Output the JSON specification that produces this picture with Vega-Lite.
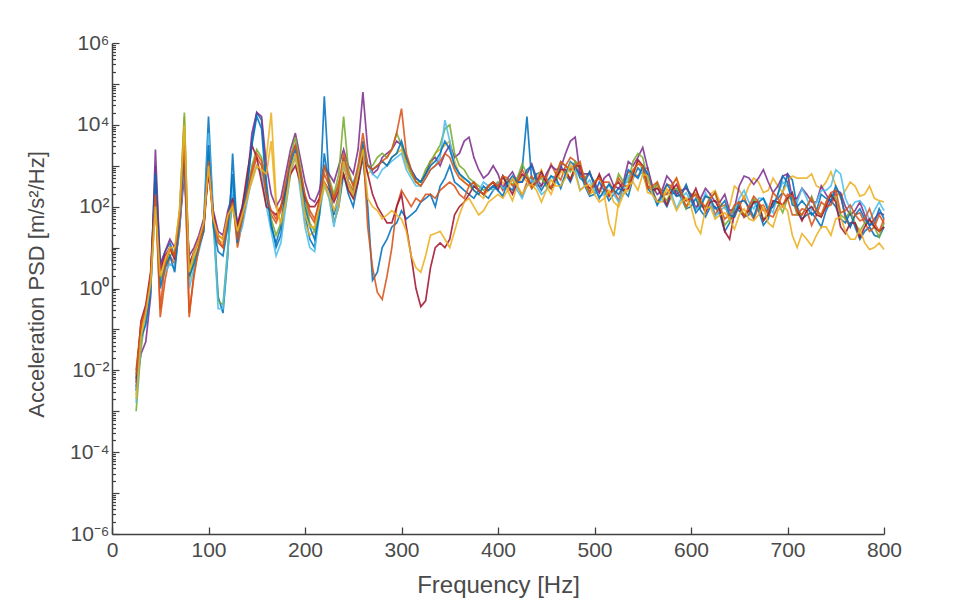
{
  "$schema": "https://vega.github.io/schema/vega-lite/v6.json",
  "autosize": {"type": "none"},
  "width": 772,
  "height": 491,
  "padding": {"left": 112, "top": 43, "right": 76, "bottom": 81},
  "background": "white",
  "config": {"view": {"stroke": null}, "font": "Liberation Sans"},
  "data": {"values": [
    {"f":25,"s1":6.3e-3,"s2":1e-2,"s3":2.5e-3,"s4":4e-3,"s5":1e-3,"s6":1.6e-3,"s7":5e-3,"s8":3.2e-3,"s9":8e-3,"s10":2e-3},
    {"f":30,"s1":0.1,"s2":0.13,"s3":0.08,"s4":0.025,"s5":0.032,"s6":0.05,"s7":0.16,"s8":0.063,"s9":0.13,"s10":0.063},
    {"f":35,"s1":0.32,"s2":0.25,"s3":0.32,"s4":0.05,"s5":0.25,"s6":0.16,"s7":0.4,"s8":0.13,"s9":0.32,"s10":0.25},
    {"f":40,"s1":1.6,"s2":2,"s3":1.3,"s4":0.63,"s5":1.6,"s6":1,"s7":2.5,"s8":0.8,"s9":2,"s10":1.3},
    {"f":45,"s1":1000,"s2":250,"s3":100,"s4":2500,"s5":160,"s6":130,"s7":400,"s8":630,"s9":200,"s10":100},
    {"f":50,"s1":4,"s2":0.2,"s3":1.6,"s4":3.2,"s5":1.6,"s6":1.3,"s7":2.5,"s8":1,"s9":0.32,"s10":2},
    {"f":55,"s1":8,"s2":1.6,"s3":4,"s4":8,"s5":3.2,"s6":2.5,"s7":6.3,"s8":3.2,"s9":4,"s10":5},
    {"f":60,"s1":13,"s2":6.3,"s3":8,"s4":16,"s5":6.3,"s6":4,"s7":10,"s8":6.3,"s9":10,"s10":10},
    {"f":65,"s1":6.3,"s2":4,"s3":8,"s4":10,"s5":8,"s6":3.2,"s7":5,"s8":2.5,"s9":6.3,"s10":10},
    {"f":70,"s1":40,"s2":25,"s3":63,"s4":32,"s5":80,"s6":32,"s7":63,"s8":40,"s9":50,"s10":80},
    {"f":75,"s1":1000,"s2":1600,"s3":16000,"s4":630,"s5":20000,"s6":1300,"s7":2000,"s8":3200,"s9":4000,"s10":10000},
    {"f":80,"s1":3.2,"s2":0.2,"s3":2,"s4":6.3,"s5":1.6,"s6":1,"s7":4,"s8":2,"s9":0.25,"s10":2.5},
    {"f":85,"s1":8,"s2":2.5,"s3":6.3,"s4":10,"s5":5,"s6":3.2,"s7":8,"s8":4,"s9":2,"s10":8},
    {"f":90,"s1":16,"s2":10,"s3":13,"s4":20,"s5":10,"s6":8,"s7":16,"s8":10,"s9":10,"s10":16},
    {"f":95,"s1":40,"s2":25,"s3":40,"s4":50,"s5":32,"s6":25,"s7":32,"s8":25,"s9":32,"s10":40},
    {"f":100,"s1":16000,"s2":1000,"s3":1600,"s4":630,"s5":2000,"s6":6300,"s7":800,"s8":3200,"s9":1300,"s10":1000},
    {"f":105,"s1":63,"s2":40,"s3":50,"s4":80,"s5":40,"s6":50,"s7":63,"s8":32,"s9":50,"s10":50},
    {"f":110,"s1":0.63,"s2":13,"s3":16,"s4":25,"s5":0.5,"s6":0.32,"s7":20,"s8":8,"s9":16,"s10":20},
    {"f":115,"s1":0.25,"s2":10,"s3":13,"s4":20,"s5":0.4,"s6":0.32,"s7":16,"s8":6.3,"s9":10,"s10":16},
    {"f":120,"s1":6.3,"s2":40,"s3":50,"s4":80,"s5":10,"s6":8,"s7":63,"s8":32,"s9":50,"s10":63},
    {"f":125,"s1":2000,"s2":160,"s3":100,"s4":200,"s5":130,"s6":320,"s7":160,"s8":630,"s9":130,"s10":100},
    {"f":130,"s1":20,"s2":10,"s3":25,"s4":40,"s5":20,"s6":16,"s7":32,"s8":13,"s9":16,"s10":25},
    {"f":135,"s1":63,"s2":40,"s3":80,"s4":100,"s5":50,"s6":32,"s7":100,"s8":63,"s9":50,"s10":63},
    {"f":140,"s1":250,"s2":160,"s3":200,"s4":400,"s5":200,"s6":130,"s7":630,"s8":320,"s9":200,"s10":160},
    {"f":145,"s1":4000,"s2":630,"s3":400,"s4":6300,"s5":1000,"s6":500,"s7":3200,"s8":3200,"s9":800,"s10":500},
    {"f":150,"s1":20000,"s2":1600,"s3":1000,"s4":20000,"s5":2500,"s6":1000,"s7":1600,"s8":16000,"s9":2000,"s10":1000},
    {"f":155,"s1":13000,"s2":1000,"s3":630,"s4":16000,"s5":1600,"s6":630,"s7":400,"s8":8000,"s9":1300,"s10":800},
    {"f":160,"s1":400,"s2":160,"s3":1600,"s4":1000,"s5":200,"s6":100,"s7":100,"s8":250,"s9":200,"s10":630},
    {"f":165,"s1":40,"s2":63,"s3":20000,"s4":200,"s5":50,"s6":25,"s7":80,"s8":32,"s9":80,"s10":4000},
    {"f":170,"s1":10,"s2":40,"s3":160,"s4":100,"s5":20,"s6":6.3,"s7":63,"s8":13,"s9":50,"s10":100},
    {"f":175,"s1":20,"s2":80,"s3":32,"s4":160,"s5":40,"s6":13,"s7":100,"s8":32,"s9":100,"s10":40},
    {"f":180,"s1":200,"s2":320,"s3":100,"s4":630,"s5":250,"s6":100,"s7":250,"s8":250,"s9":400,"s10":130},
    {"f":185,"s1":1000,"s2":1000,"s3":630,"s4":2500,"s5":1600,"s6":630,"s7":630,"s8":1300,"s9":1600,"s10":800},
    {"f":190,"s1":2500,"s2":1600,"s3":1600,"s4":6300,"s5":5000,"s6":2000,"s7":1000,"s8":3200,"s9":3200,"s10":2000},
    {"f":195,"s1":400,"s2":630,"s3":320,"s4":1600,"s5":1000,"s6":250,"s7":400,"s8":630,"s9":800,"s10":400},
    {"f":200,"s1":63,"s2":160,"s3":40,"s4":400,"s5":160,"s6":32,"s7":160,"s8":100,"s9":200,"s10":63},
    {"f":205,"s1":16,"s2":63,"s3":20,"s4":160,"s5":40,"s6":10,"s7":100,"s8":32,"s9":80,"s10":32},
    {"f":210,"s1":10,"s2":40,"s3":25,"s4":130,"s5":25,"s6":8,"s7":100,"s8":16,"s9":50,"s10":32},
    {"f":215,"s1":100,"s2":160,"s3":80,"s4":250,"s5":100,"s6":63,"s7":160,"s8":63,"s9":130,"s10":100},
    {"f":220,"s1":50000,"s2":630,"s3":320,"s4":1000,"s5":1000,"s6":400,"s7":400,"s8":2000,"s9":1000,"s10":400},
    {"f":225,"s1":400,"s2":320,"s3":160,"s4":630,"s5":500,"s6":160,"s7":250,"s8":320,"s9":400,"s10":200},
    {"f":230,"s1":40,"s2":160,"s3":40,"s4":400,"s5":200,"s6":32,"s7":130,"s8":63,"s9":160,"s10":80},
    {"f":235,"s1":100,"s2":400,"s3":100,"s4":1000,"s5":630,"s6":160,"s7":250,"s8":200,"s9":320,"s10":160},
    {"f":240,"s1":630,"s2":1000,"s3":1600,"s4":2500,"s5":16000,"s6":1000,"s7":630,"s8":1600,"s9":2000,"s10":1300},
    {"f":245,"s1":200,"s2":400,"s3":320,"s4":1000,"s5":800,"s6":500,"s7":250,"s8":400,"s9":630,"s10":400},
    {"f":250,"s1":100,"s2":250,"s3":160,"s4":630,"s5":320,"s6":400,"s7":160,"s8":200,"s9":320,"s10":200},
    {"f":255,"s1":400,"s2":630,"s3":500,"s4":2500,"s5":800,"s6":800,"s7":400,"s8":630,"s9":1000,"s10":630},
    {"f":260,"s1":1600,"s2":3200,"s3":2000,"s4":63000,"s5":2500,"s6":2000,"s7":2000,"s8":4000,"s9":6300,"s10":2500},
    {"f":265,"s1":100,"s2":32,"s3":630,"s4":2500,"s5":1000,"s6":1000,"s7":630,"s8":1000,"s9":1000,"s10":160},
    {"f":270,"s1":1.6,"s2":3.2,"s3":800,"s4":630,"s5":1000,"s6":630,"s7":200,"s8":800,"s9":800,"s10":100},
    {"f":275,"s1":2.5,"s2":0.8,"s3":1000,"s4":800,"s5":1600,"s6":500,"s7":100,"s8":1000,"s9":1000,"s10":80},
    {"f":280,"s1":10,"s2":0.54,"s3":1300,"s4":1600,"s5":2000,"s6":800,"s7":63,"s8":1300,"s9":1300,"s10":50},
    {"f":285,"s1":16,"s2":2,"s3":1000,"s4":2000,"s5":1600,"s6":1000,"s7":40,"s8":1000,"s9":1600,"s10":63},
    {"f":290,"s1":32,"s2":10,"s3":1600,"s4":2500,"s5":2500,"s6":1300,"s7":40,"s8":1600,"s9":2500,"s10":80},
    {"f":295,"s1":40,"s2":100,"s3":2000,"s4":4000,"s5":6300,"s6":1600,"s7":100,"s8":2000,"s9":6300,"s10":63},
    {"f":300,"s1":80,"s2":250,"s3":2500,"s4":3200,"s5":3200,"s6":2000,"s7":200,"s8":4000,"s9":25000,"s10":50},
    {"f":305,"s1":50,"s2":160,"s3":1000,"s4":1600,"s5":1300,"s6":800,"s7":32,"s8":1600,"s9":2000,"s10":25},
    {"f":310,"s1":63,"s2":100,"s3":630,"s4":800,"s5":630,"s6":500,"s7":6.3,"s8":800,"s9":800,"s10":6.3},
    {"f":315,"s1":80,"s2":160,"s3":400,"s4":500,"s5":400,"s6":320,"s7":1,"s8":500,"s9":400,"s10":3.2},
    {"f":320,"s1":130,"s2":130,"s3":320,"s4":400,"s5":400,"s6":320,"s7":0.36,"s8":400,"s9":320,"s10":2.5},
    {"f":325,"s1":160,"s2":200,"s3":630,"s4":630,"s5":800,"s6":500,"s7":0.5,"s8":630,"s9":500,"s10":6.3},
    {"f":330,"s1":200,"s2":200,"s3":1000,"s4":1300,"s5":1300,"s6":800,"s7":3.2,"s8":1000,"s9":800,"s10":20},
    {"f":335,"s1":100,"s2":160,"s3":2000,"s4":1600,"s5":2000,"s6":1000,"s7":10,"s8":1300,"s9":1000,"s10":22},
    {"f":340,"s1":320,"s2":250,"s3":2500,"s4":1000,"s5":3200,"s6":1600,"s7":13,"s8":2000,"s9":1300,"s10":25},
    {"f":345,"s1":500,"s2":320,"s3":3200,"s4":2000,"s5":8000,"s6":13000,"s7":10,"s8":4000,"s9":2000,"s10":16},
    {"f":350,"s1":1000,"s2":400,"s3":4000,"s4":3200,"s5":10000,"s6":4000,"s7":16,"s8":2500,"s9":1600,"s10":10},
    {"f":355,"s1":400,"s2":320,"s3":1300,"s4":1600,"s5":2000,"s6":1000,"s7":63,"s8":1000,"s9":800,"s10":25},
    {"f":360,"s1":320,"s2":200,"s3":630,"s4":2000,"s5":1000,"s6":630,"s7":100,"s8":630,"s9":500,"s10":63},
    {"f":365,"s1":250,"s2":160,"s3":400,"s4":4000,"s5":800,"s6":500,"s7":130,"s8":500,"s9":400,"s10":130},
    {"f":370,"s1":200,"s2":320,"s3":320,"s4":5000,"s5":500,"s6":400,"s7":200,"s8":400,"s9":320,"s10":160},
    {"f":375,"s1":160,"s2":400,"s3":250,"s4":1600,"s5":400,"s6":320,"s7":320,"s8":250,"s9":400,"s10":100},
    {"f":380,"s1":250,"s2":250,"s3":200,"s4":800,"s5":320,"s6":250,"s7":250,"s8":200,"s9":250,"s10":63},
    {"f":385,"s1":200,"s2":200,"s3":160,"s4":500,"s5":250,"s6":400,"s7":200,"s8":320,"s9":200,"s10":80},
    {"f":390,"s1":160,"s2":250,"s3":320,"s4":630,"s5":320,"s6":320,"s7":320,"s8":250,"s9":320,"s10":130},
    {"f":395,"s1":250,"s2":320,"s3":250,"s4":1000,"s5":400,"s6":250,"s7":400,"s8":320,"s9":400,"s10":160},
    {"f":400,"s1":320,"s2":400,"s3":400,"s4":630,"s5":320,"s6":400,"s7":250,"s8":250,"s9":320,"s10":200},
    {"f":405,"s1":560,"s2":250,"s3":400,"s4":280,"s5":560,"s6":280,"s7":560,"s8":180,"s9":560,"s10":160},
    {"f":410,"s1":320,"s2":400,"s3":250,"s4":500,"s5":400,"s6":320,"s7":320,"s8":400,"s9":500,"s10":250},
    {"f":415,"s1":250,"s2":450,"s3":140,"s4":710,"s5":350,"s6":560,"s7":200,"s8":560,"s9":320,"s10":500},
    {"f":420,"s1":500,"s2":320,"s3":320,"s4":400,"s5":500,"s6":250,"s7":400,"s8":400,"s9":400,"s10":320},
    {"f":425,"s1":800,"s2":180,"s3":560,"s4":400,"s5":1100,"s6":160,"s7":630,"s8":400,"s9":800,"s10":200},
    {"f":430,"s1":16000,"s2":400,"s3":400,"s4":630,"s5":630,"s6":320,"s7":500,"s8":800,"s9":500,"s10":320},
    {"f":435,"s1":400,"s2":560,"s3":350,"s4":1100,"s5":280,"s6":450,"s7":320,"s8":1000,"s9":280,"s10":350},
    {"f":440,"s1":630,"s2":320,"s3":500,"s4":500,"s5":400,"s6":320,"s7":400,"s8":400,"s9":400,"s10":250},
    {"f":445,"s1":710,"s2":320,"s3":800,"s4":320,"s5":500,"s6":200,"s7":710,"s8":250,"s9":560,"s10":130},
    {"f":450,"s1":320,"s2":500,"s3":320,"s4":630,"s5":320,"s6":250,"s7":400,"s8":400,"s9":500,"s10":250},
    {"f":455,"s1":280,"s2":1100,"s3":200,"s4":1000,"s5":280,"s6":560,"s7":280,"s8":560,"s9":280,"s10":450},
    {"f":460,"s1":400,"s2":630,"s3":400,"s4":800,"s5":500,"s6":400,"s7":500,"s8":500,"s9":630,"s10":320},
    {"f":465,"s1":1000,"s2":450,"s3":710,"s4":890,"s5":1260,"s6":320,"s7":800,"s8":280,"s9":1260,"s10":320},
    {"f":470,"s1":630,"s2":1000,"s3":630,"s4":2000,"s5":1000,"s6":630,"s7":800,"s8":630,"s9":1000,"s10":500},
    {"f":475,"s1":400,"s2":1600,"s3":500,"s4":4000,"s5":710,"s6":890,"s7":450,"s8":1260,"s9":800,"s10":1100},
    {"f":480,"s1":800,"s2":1300,"s3":800,"s4":5000,"s5":1300,"s6":800,"s7":1000,"s8":1000,"s9":1000,"s10":630},
    {"f":485,"s1":710,"s2":560,"s3":1000,"s4":630,"s5":1000,"s6":250,"s7":1000,"s8":500,"s9":1260,"s10":250},
    {"f":490,"s1":320,"s2":500,"s3":400,"s4":630,"s5":500,"s6":320,"s7":400,"s8":400,"s9":400,"s10":320},
    {"f":495,"s1":180,"s2":710,"s3":200,"s4":630,"s5":220,"s6":450,"s7":280,"s8":710,"s9":220,"s10":350},
    {"f":500,"s1":200,"s2":320,"s3":250,"s4":400,"s5":400,"s6":250,"s7":320,"s8":320,"s9":400,"s10":200},
    {"f":505,"s1":400,"s2":220,"s3":280,"s4":220,"s5":560,"s6":180,"s7":630,"s8":160,"s9":500,"s10":130},
    {"f":510,"s1":250,"s2":400,"s3":200,"s4":500,"s5":320,"s6":200,"s7":320,"s8":250,"s9":320,"s10":160},
    {"f":515,"s1":140,"s2":400,"s3":40,"s4":630,"s5":220,"s6":350,"s7":180,"s8":350,"s9":200,"s10":250},
    {"f":520,"s1":200,"s2":250,"s3":19,"s4":320,"s5":250,"s6":200,"s7":320,"s8":250,"s9":250,"s10":130},
    {"f":525,"s1":280,"s2":140,"s3":130,"s4":280,"s5":630,"s6":130,"s7":400,"s8":200,"s9":500,"s10":100},
    {"f":530,"s1":250,"s2":320,"s3":200,"s4":400,"s5":400,"s6":250,"s7":250,"s8":320,"s9":320,"s10":200},
    {"f":535,"s1":180,"s2":710,"s3":250,"s4":1260,"s5":400,"s6":560,"s7":280,"s8":800,"s9":320,"s10":350},
    {"f":540,"s1":500,"s2":630,"s3":500,"s4":1000,"s5":1300,"s6":630,"s7":630,"s8":630,"s9":800,"s10":400},
    {"f":545,"s1":890,"s2":560,"s3":1260,"s4":1600,"s5":2000,"s6":500,"s7":1400,"s8":500,"s9":1100,"s10":250},
    {"f":550,"s1":630,"s2":800,"s3":800,"s4":2800,"s5":1600,"s6":800,"s7":1000,"s8":1000,"s9":1000,"s10":630},
    {"f":555,"s1":280,"s2":890,"s3":220,"s4":890,"s5":450,"s6":710,"s7":320,"s8":630,"s9":280,"s10":560},
    {"f":560,"s1":200,"s2":250,"s3":200,"s4":320,"s5":250,"s6":200,"s7":250,"s8":250,"s9":320,"s10":200},
    {"f":565,"s1":350,"s2":130,"s3":320,"s4":200,"s5":400,"s6":110,"s7":280,"s8":110,"s9":400,"s10":130},
    {"f":570,"s1":160,"s2":200,"s3":250,"s4":250,"s5":200,"s6":160,"s7":200,"s8":200,"s9":200,"s10":130},
    {"f":575,"s1":100,"s2":350,"s3":200,"s4":560,"s5":140,"s6":220,"s7":110,"s8":350,"s9":200,"s10":280},
    {"f":580,"s1":200,"s2":320,"s3":320,"s4":400,"s5":250,"s6":200,"s7":250,"s8":250,"s9":320,"s10":160},
    {"f":585,"s1":250,"s2":180,"s3":500,"s4":200,"s5":280,"s6":89,"s7":350,"s8":180,"s9":500,"s10":80},
    {"f":590,"s1":160,"s2":200,"s3":250,"s4":250,"s5":200,"s6":160,"s7":200,"s8":200,"s9":200,"s10":130},
    {"f":595,"s1":89,"s2":320,"s3":140,"s4":280,"s5":89,"s6":220,"s7":140,"s8":350,"s9":100,"s10":160},
    {"f":600,"s1":100,"s2":160,"s3":200,"s4":200,"s5":160,"s6":130,"s7":160,"s8":160,"s9":160,"s10":100},
    {"f":605,"s1":160,"s2":89,"s3":220,"s4":89,"s5":200,"s6":89,"s7":280,"s8":71,"s9":200,"s10":35},
    {"f":610,"s1":80,"s2":130,"s3":160,"s4":160,"s5":100,"s6":100,"s7":130,"s8":100,"s9":130,"s10":22},
    {"f":615,"s1":56,"s2":180,"s3":89,"s4":280,"s5":100,"s6":220,"s7":71,"s8":180,"s9":100,"s10":89},
    {"f":620,"s1":100,"s2":160,"s3":200,"s4":200,"s5":160,"s6":130,"s7":130,"s8":160,"s9":160,"s10":100},
    {"f":625,"s1":100,"s2":63,"s3":250,"s4":130,"s5":220,"s6":56,"s7":140,"s8":89,"s9":220,"s10":50},
    {"f":630,"s1":63,"s2":100,"s3":130,"s4":130,"s5":80,"s6":80,"s7":80,"s8":100,"s9":100,"s10":63},
    {"f":635,"s1":25,"s2":110,"s3":89,"s4":200,"s5":35,"s6":100,"s7":25,"s8":140,"s9":50,"s10":71},
    {"f":640,"s1":40,"s2":50,"s3":100,"s4":80,"s5":50,"s6":63,"s7":16,"s8":63,"s9":63,"s10":50},
    {"f":645,"s1":89,"s2":56,"s3":320,"s4":89,"s5":100,"s6":71,"s7":71,"s8":56,"s9":110,"s10":28},
    {"f":650,"s1":80,"s2":100,"s3":250,"s4":320,"s5":100,"s6":160,"s7":100,"s8":130,"s9":130,"s10":63},
    {"f":655,"s1":56,"s2":180,"s3":160,"s4":560,"s5":63,"s6":250,"s7":56,"s8":140,"s9":56,"s10":89},
    {"f":660,"s1":63,"s2":80,"s3":320,"s4":500,"s5":80,"s6":130,"s7":80,"s8":100,"s9":100,"s10":50},
    {"f":665,"s1":140,"s2":50,"s3":500,"s4":350,"s5":160,"s6":89,"s7":130,"s8":56,"s9":180,"s10":45},
    {"f":670,"s1":80,"s2":100,"s3":400,"s4":500,"s5":100,"s6":160,"s7":130,"s8":130,"s9":130,"s10":63},
    {"f":675,"s1":35,"s2":110,"s3":220,"s4":800,"s5":50,"s6":160,"s7":45,"s8":160,"s9":80,"s10":100},
    {"f":680,"s1":50,"s2":63,"s3":250,"s4":400,"s5":63,"s6":100,"s7":63,"s8":80,"s9":80,"s10":40},
    {"f":685,"s1":130,"s2":56,"s3":500,"s4":220,"s5":110,"s6":71,"s7":140,"s8":100,"s9":220,"s10":32},
    {"f":690,"s1":160,"s2":100,"s3":320,"s4":320,"s5":130,"s6":200,"s7":130,"s8":200,"s9":160,"s10":80},
    {"f":695,"s1":220,"s2":220,"s3":220,"s4":560,"s5":71,"s6":400,"s7":110,"s8":560,"s9":100,"s10":110},
    {"f":700,"s1":630,"s2":160,"s3":400,"s4":630,"s5":160,"s6":320,"s7":160,"s8":400,"s9":200,"s10":80},
    {"f":705,"s1":450,"s2":63,"s3":560,"s4":160,"s5":160,"s6":160,"s7":220,"s8":110,"s9":180,"s10":20},
    {"f":710,"s1":100,"s2":63,"s3":500,"s4":160,"s5":63,"s6":130,"s7":80,"s8":100,"s9":80,"s10":10},
    {"f":715,"s1":50,"s2":89,"s3":500,"s4":280,"s5":63,"s6":280,"s7":45,"s8":140,"s9":63,"s10":22},
    {"f":720,"s1":63,"s2":80,"s3":500,"s4":200,"s5":100,"s6":160,"s7":80,"s8":100,"s9":100,"s10":16},
    {"f":725,"s1":71,"s2":35,"s3":630,"s4":130,"s5":180,"s6":80,"s7":100,"s8":63,"s9":160,"s10":11},
    {"f":730,"s1":50,"s2":63,"s3":320,"s4":130,"s5":80,"s6":130,"s7":63,"s8":80,"s9":80,"s10":20},
    {"f":735,"s1":32,"s2":130,"s3":280,"s4":320,"s5":56,"s6":250,"s7":56,"s8":200,"s9":63,"s10":32},
    {"f":740,"s1":80,"s2":100,"s3":400,"s4":200,"s5":130,"s6":250,"s7":100,"s8":160,"s9":130,"s10":32},
    {"f":745,"s1":140,"s2":110,"s3":710,"s4":130,"s5":200,"s6":320,"s7":200,"s8":140,"s9":220,"s10":20},
    {"f":750,"s1":100,"s2":200,"s3":320,"s4":250,"s5":160,"s6":800,"s7":130,"s8":320,"s9":250,"s10":50},
    {"f":755,"s1":50,"s2":200,"s3":160,"s4":220,"s5":63,"s6":630,"s7":32,"s8":180,"s9":71,"s10":56},
    {"f":760,"s1":40,"s2":50,"s3":250,"s4":100,"s5":50,"s6":160,"s7":22,"s8":63,"s9":80,"s10":25},
    {"f":765,"s1":71,"s2":32,"s3":400,"s4":63,"s5":80,"s6":89,"s7":40,"s8":32,"s9":110,"s10":16},
    {"f":770,"s1":32,"s2":63,"s3":320,"s4":80,"s5":40,"s6":130,"s7":40,"s8":63,"s9":63,"s10":16},
    {"f":775,"s1":16,"s2":71,"s3":180,"s4":130,"s5":25,"s6":140,"s7":18,"s8":89,"s9":45,"s10":28},
    {"f":780,"s1":25,"s2":40,"s3":200,"s4":63,"s5":40,"s6":100,"s7":32,"s8":50,"s9":50,"s10":13},
    {"f":785,"s1":32,"s2":25,"s3":320,"s4":35,"s5":45,"s6":45,"s7":50,"s8":35,"s9":89,"s10":9},
    {"f":790,"s1":20,"s2":32,"s3":160,"s4":50,"s5":32,"s6":80,"s7":32,"s8":40,"s9":40,"s10":10},
    {"f":795,"s1":18,"s2":63,"s3":140,"s4":71,"s5":18,"s6":130,"s7":25,"s8":89,"s9":25,"s10":13},
    {"f":800,"s1":32,"s2":40,"s3":130,"s4":63,"s5":40,"s6":80,"s7":32,"s8":50,"s9":50,"s10":9}
  ]},
  "transform": [
    {"fold": ["s1","s2","s3","s4","s5","s6","s7","s8","s9","s10"], "as": ["series","psd"]}
  ],
  "mark": {"type": "line", "strokeWidth": 1.7, "opacity": 0.88},
  "encoding": {
    "x": {
      "field": "f", "type": "quantitative",
      "scale": {"domain": [0, 800], "nice": false, "zero": false},
      "axis": {
        "title": "Frequency [Hz]",
        "values": [0,100,200,300,400,500,600,700,800],
        "grid": false,
        "labelFlush": false,
        "tickSize": -7,
        "tickColor": "#404040", "domainColor": "#404040", "domainWidth": 1.5, "tickWidth": 1.3,
        "labelFontSize": 21, "labelColor": "#4a4a4a", "labelPadding": 12, "labelFont": "Liberation Sans",
        "titleFontSize": 24, "titleFontWeight": "normal", "titleColor": "#4a4a4a", "titleFont": "Liberation Sans",
        "titleY": 58, "titleBaseline": "alphabetic"
      }
    },
    "y": {
      "field": "psd", "type": "quantitative",
      "scale": {"type": "log", "domain": [0.000001, 1000000], "nice": false},
      "axis": {
        "title": "Acceleration PSD [m/s²/Hz]",
        "values": [1e-6,2e-6,3e-6,4e-6,5e-6,6e-6,7e-6,8e-6,9e-6,1e-5,2e-5,3e-5,4e-5,5e-5,6e-5,7e-5,8e-5,9e-5,1e-4,2e-4,3e-4,4e-4,5e-4,6e-4,7e-4,8e-4,9e-4,1e-3,2e-3,3e-3,4e-3,5e-3,6e-3,7e-3,8e-3,9e-3,0.01,0.02,0.03,0.04,0.05,0.06,0.07,0.08,0.09,0.1,0.2,0.3,0.4,0.5,0.6,0.7,0.8,0.9,1,2,3,4,5,6,7,8,9,10,20,30,40,50,60,70,80,90,100,200,300,400,500,600,700,800,900,1000,2000,3000,4000,5000,6000,7000,8000,9000,10000,20000,30000,40000,50000,60000,70000,80000,90000,100000,200000,300000,400000,500000,600000,700000,800000,900000,1000000],
        "labelExpr": "datum.value===1000000?'10⁶':datum.value===10000?'10⁴':datum.value===100?'10²':datum.value===1?'10⁰':datum.value===0.01?'10⁻²':datum.value===0.0001?'10⁻⁴':datum.value===0.000001?'10⁻⁶':''",
        "grid": false,
        "labelFlush": false,
        "tickSize": {"condition": {"test": "abs(log(datum.value)/LN10 - round(log(datum.value)/LN10)) < 0.0001", "value": -7}, "value": -3.5},
        "tickColor": "#404040", "domainColor": "#404040", "domainWidth": 1.5, "tickWidth": 1.2,
        "labelFontSize": 21, "labelColor": "#4a4a4a", "labelPadding": 10, "labelFont": "Liberation Sans",
        "labelOverlap": false,
        "titleFontSize": 22, "titleFontWeight": "normal", "titleColor": "#4a4a4a", "titleFont": "Liberation Sans",
        "titleX": -64, "titleY": 241, "titleAngle": -90, "titleBaseline": "bottom"
      }
    },
    "color": {
      "field": "series", "type": "nominal",
      "scale": {
        "domain": ["s1","s2","s3","s4","s5","s6","s7","s8","s9","s10"],
        "range": ["#0072BD","#D95319","#EDB120","#7E2F8E","#77AC30","#4DBEEE","#A2142F","#0072BD","#D95319","#EDB120"]
      },
      "legend": null
    },
    "order": {"field": "f", "type": "quantitative"}
  }
}
